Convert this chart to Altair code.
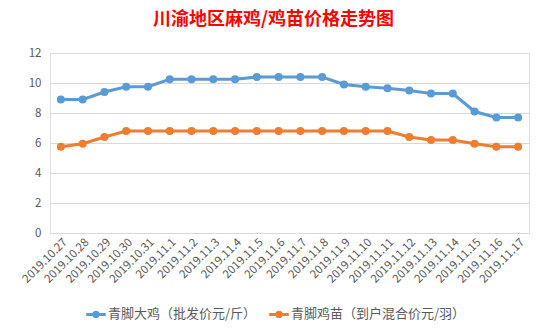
import altair as alt
import pandas as pd

dates = ["2019.10.27", "2019.10.28", "2019.10.29", "2019.10.30", "2019.10.31",
         "2019.11.1", "2019.11.2", "2019.11.3", "2019.11.4", "2019.11.5",
         "2019.11.6", "2019.11.7", "2019.11.8", "2019.11.9", "2019.11.10",
         "2019.11.11", "2019.11.12", "2019.11.13", "2019.11.14", "2019.11.15",
         "2019.11.16", "2019.11.17"]
chicken = [8.9, 8.9, 9.4, 9.75, 9.75, 10.25, 10.25, 10.25, 10.25, 10.4,
           10.4, 10.4, 10.4, 9.9, 9.75, 9.65, 9.5, 9.3, 9.3, 8.1, 7.7, 7.7]
chick = [5.75, 5.95, 6.4, 6.8, 6.8, 6.8, 6.8, 6.8, 6.8, 6.8,
         6.8, 6.8, 6.8, 6.8, 6.8, 6.8, 6.4, 6.2, 6.2, 5.95, 5.75, 5.75]
series = ["青脚大鸡（批发价元/斤）", "青脚鸡苗（到户混合价元/羽）"]
colors = ["#5B9BD5", "#ED7D31"]

rows = []
for i, d in enumerate(dates):
    rows.append({"date": d, "series": series[0], "value": chicken[i], "order": 0})
    rows.append({"date": d, "series": series[1], "value": chick[i], "order": 1})
df = pd.DataFrame(rows)

font = "Noto Sans CJK SC"

chart = alt.Chart(df).mark_line(
    strokeWidth=3.2,
    point=alt.OverlayMarkDef(filled=True, size=65, opacity=1),
).encode(
    x=alt.X("date:N", sort=dates, title=None,
            scale=alt.Scale(paddingInner=0, paddingOuter=0.5),
            axis=alt.Axis(labelAngle=-45, labelColor="#595959", labelFontSize=11.5,
                          labelFont=font, ticks=False, domain=True, domainColor="#D9D9D9",
                          grid=False, labelPadding=3)),
    y=alt.Y("value:Q", title=None,
            scale=alt.Scale(domain=[0, 12], nice=False),
            axis=alt.Axis(values=[0, 2, 4, 6, 8, 10, 12], labelColor="#595959",
                          labelFontSize=11.5, labelFont=font, ticks=False, domain=False,
                          gridColor="#D9D9D9", labelPadding=9)),
    color=alt.Color("series:N", sort=series,
                    scale=alt.Scale(domain=series, range=colors),
                    legend=alt.Legend(title=None, orient="none", direction="horizontal",
                                      legendX=38, legendY=253,
                                      labelFont=font, labelFontSize=13, labelColor="#595959",
                                      labelLimit=300,
                                      symbolType="M-1.6,0L1.6,0M-0.35,0a0.35,0.35 0 1,0 0.7,0a0.35,0.35 0 1,0 -0.7,0",
                                      symbolSize=150, symbolStrokeWidth=3,
                                      columnPadding=6, labelOffset=4)),
    order="order:Q",
).properties(
    width=479,
    height=180,
    title=alt.TitleParams("川渝地区麻鸡/鸡苗价格走势图", color="#FF0000", fontSize=18,
                          font=font, fontWeight="bold", anchor="middle", dx=-16, offset=18),
    autosize=alt.AutoSizeParams(type="none"),
    padding={"left": 50, "top": 53, "right": 18, "bottom": 102},
).configure_view(stroke=None).configure(background="white")

chart.save("out.html", embed_options={"renderer": "svg", "actions": False})
